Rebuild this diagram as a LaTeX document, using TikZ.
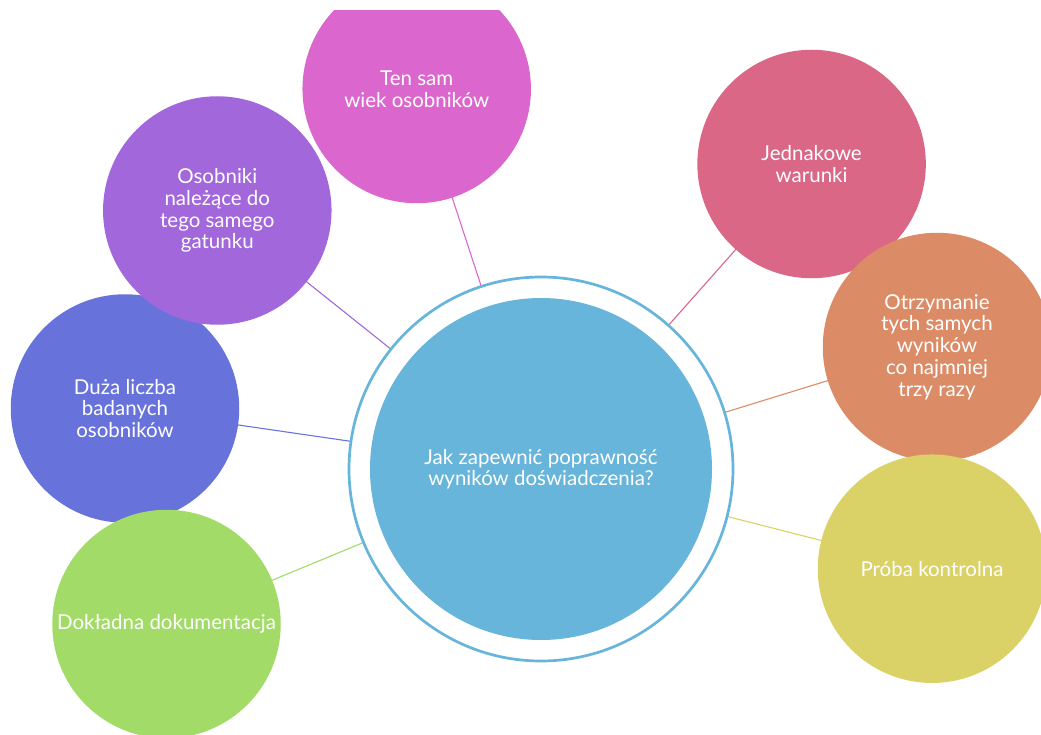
\documentclass[tikz,border=0pt]{standalone}
\usepackage{fontspec}
\setmainfont{Lato}
\usetikzlibrary{backgrounds}
\definecolor{cblue}{RGB}{103,181,219}
\definecolor{cmag}{RGB}{219,103,206}
\definecolor{cpur}{RGB}{161,103,219}
\definecolor{cind}{RGB}{103,115,219}
\definecolor{cgrn}{RGB}{162,219,103}
\definecolor{cred}{RGB}{219,103,135}
\definecolor{cora}{RGB}{219,140,103}
\definecolor{cyel}{RGB}{219,210,103}
\tikzset{
  bubble/.style={circle, fill=#1, draw=none, minimum size=228.5pt, inner sep=0pt,
    text=white, align=center, font=\fontsize{20.5}{21.8}\selectfont},
  hub/.style={circle, fill=white, draw=cblue, line width=2.7pt, minimum size=384pt, inner sep=0pt},
  hubcore/.style={circle, fill=cblue, draw=none, minimum size=342pt, inner sep=0pt,
    text=white, align=center, font=\fontsize{20.5}{21}\selectfont},
  link/.style={draw=#1, line width=1.1pt}
}
\begin{document}
\begin{tikzpicture}[x=1pt,y=-1pt]
\useasboundingbox (0,0) rectangle (1041,735);
\clip (0,11) rectangle (1041,735);
\node[hub] (c) at (541,469) {};
\node[hubcore] (ci) at (541,469) {Jak zapewnić poprawność\\wyników doświadczenia?};
\node[bubble=cind] (s6) at (125,408.5) {Duża liczba\\badanych\\osobników};
\node[bubble=cpur] (s7) at (217.3,210.5) {Osobniki\\należące do\\tego samego\\gatunku};
\node[bubble=cmag] (s1) at (416.7,89) {Ten sam\\wiek osobników};
\node[bubble=cgrn] (s5) at (166.5,624) {Dokładna dokumentacja};
\node[bubble=cred] (s2) at (811.6,164) {Jednakowe\\warunki};
\node[bubble=cora] (s3) at (937,347) {Otrzymanie\\tych samych\\wyników\\co najmniej\\trzy razy};
\node[bubble=cyel] (s4) at (932,568.7) {Próba kontrolna};
\begin{scope}[on background layer]
\draw[link=cmag] (s1.center) -- (c.center);
\draw[link=cred] (s2.center) -- (c.center);
\draw[link=cora] (s3.center) -- (c.center);
\draw[link=cyel] (s4.center) -- (c.center);
\draw[link=cgrn] (s5.center) -- (c.center);
\draw[link=cind] (s6.center) -- (c.center);
\draw[link=cpur] (s7.center) -- (c.center);
\end{scope}
\end{tikzpicture}
\end{document}
